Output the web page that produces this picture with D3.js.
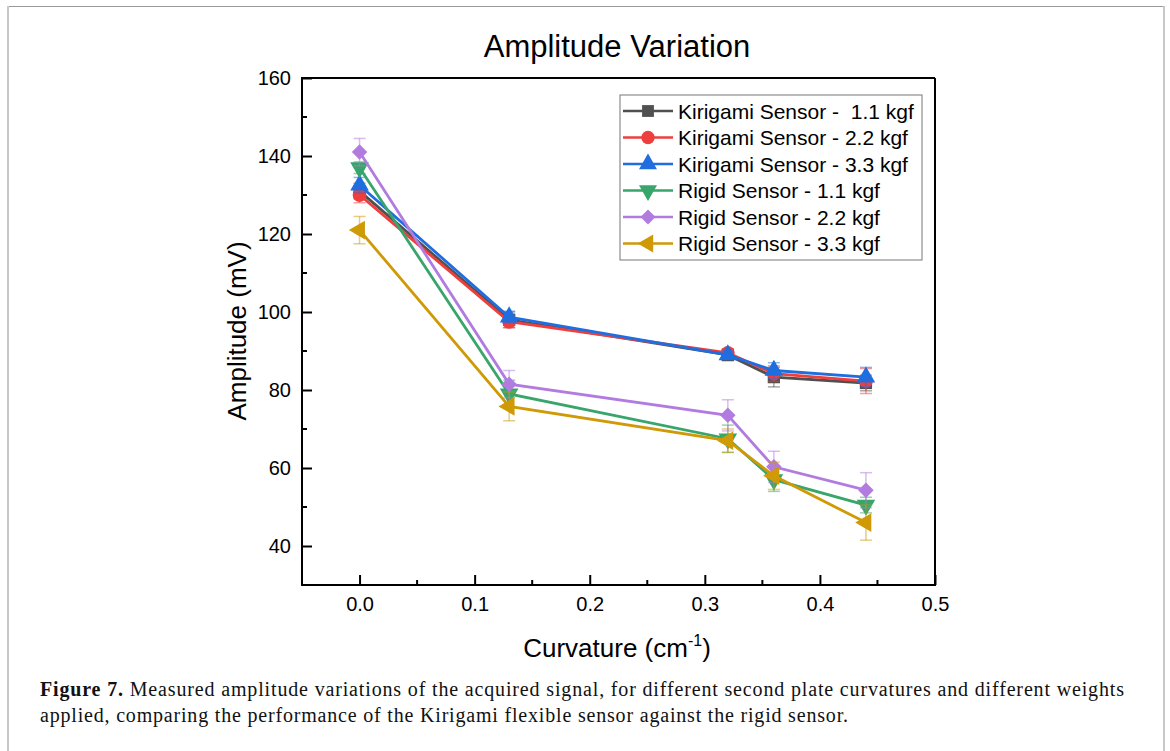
<!DOCTYPE html>
<html>
<head>
<meta charset="utf-8">
<script src="https://cdn.jsdelivr.net/npm/d3@7"></script>
<style>
body { margin: 0; background: #fff; }
</style>
</head>
<body>
<div id="chart"></div>
<script>
// curvature values (cm^-1)
var curvature = [0, 0.13, 0.32, 0.36, 0.44];

var seriesNames = ["Kirigami Sensor -  1.1 kgf", "Kirigami Sensor - 2.2 kgf", "Kirigami Sensor - 3.3 kgf",
                   "Rigid Sensor - 1.1 kgf", "Rigid Sensor - 2.2 kgf", "Rigid Sensor - 3.3 kgf"];

// amplitude (mV)
var kiri11 = [131, 98, 89, 83.3, 81.8];
var kiri22 = [130, 97.5, 89.5, 84.2, 82.3];
var kiri33 = [132.5, 98.7, 89, 85, 83.3];
var rigid11 = [137, 79, 67.5, 57, 50.5];
var rigid22 = [141, 81.5, 73.5, 60.3, 54.3];
var rigid33 = [121, 75.8, 67, 58, 46];

// error bar half widths
var kiri11Err = [2, 2, 1.5, 2.5, 2];
var kiri22Err = [2, 1.5, 1, 2, 3.2];
var kiri33Err = [2, 1.5, 1, 2, 2.5];
var rigid11Err = [1.5, 3.5, 3.5, 3, 2];
var rigid22Err = [3.5, 3.5, 4, 4, 4.5];
var rigid33Err = [3.5, 3.7, 3, 3.5, 4.5];

var xTicks = [0, 0.1, 0.2, 0.3, 0.4, 0.5];
var yTicks = [40, 60, 80, 100, 120, 140, 160];

var colors = ["#505050", "#ef3e3e", "#1f6ddf", "#38a56a", "#b27be0", "#cf9a06"];
var symbols = ["square", "circle", "up", "down", "diamond", "left"];

function init() {
    var values = [kiri11, kiri22, kiri33, rigid11, rigid22, rigid33];
    var errs = [kiri11Err, kiri22Err, kiri33Err, rigid11Err, rigid22Err, rigid33Err];

    var W = 1170, H = 751;
    var pLeft = 302, pRight = 935, pTop = 78, pBottom = 585;
    var font = "Liberation Sans, Arial, sans-serif";

    var svg = d3.select("#chart").append("svg")
        .attr("width", W)
        .attr("height", H);

    // page frame
    svg.append("line").attr("x1", 7).attr("x2", 1164).attr("y1", 6.5).attr("y2", 6.5)
        .attr("stroke", "#999").attr("stroke-width", 1);
    svg.append("line").attr("x1", 8).attr("x2", 8).attr("y1", 6).attr("y2", H)
        .attr("stroke", "#c8c8c8").attr("stroke-width", 2);
    svg.append("line").attr("x1", 1164).attr("x2", 1164).attr("y1", 6).attr("y2", H)
        .attr("stroke", "#c8c8c8").attr("stroke-width", 2);

    var x = d3.scaleLinear().domain([-0.05, 0.5]).range([pLeft, pRight]);
    var y = d3.scaleLinear().domain([30, 160]).range([pBottom, pTop]);

    // title
    svg.append("text")
        .attr("x", 617)
        .attr("y", 57)
        .attr("text-anchor", "middle")
        .attr("font-family", font)
        .attr("font-size", "31px")
        .text("Amplitude Variation");

    // frame top/right
    svg.append("line").attr("x1", pLeft).attr("x2", pRight).attr("y1", pTop).attr("y2", pTop)
        .attr("stroke", "#000").attr("stroke-width", 2);
    svg.append("line").attr("x1", pRight).attr("x2", pRight).attr("y1", pTop).attr("y2", pBottom)
        .attr("stroke", "#000").attr("stroke-width", 2);

    // x axis
    var xAxis = d3.axisBottom(x)
        .tickValues(xTicks)
        .tickFormat(d3.format(".1f"))
        .tickSizeInner(-10)
        .tickSizeOuter(0)
        .tickPadding(12);
    var gx = svg.append("g")
        .attr("transform", "translate(0," + pBottom + ")")
        .call(xAxis);
    gx.select(".domain").attr("stroke-width", 2).attr("d", "M" + (pLeft - 1) + ",0H" + (pRight + 1));
    gx.selectAll(".tick line").attr("stroke-width", 2);
    gx.selectAll(".tick text").attr("font-family", font).attr("font-size", "20px").attr("fill", "#000");
    // minor ticks
    gx.selectAll(".minor").data([-0.05, 0.05, 0.15, 0.25, 0.35, 0.45])
        .enter().append("line")
        .attr("x1", function(d) { return x(d); })
        .attr("x2", function(d) { return x(d); })
        .attr("y1", 0).attr("y2", -5)
        .attr("stroke", "#000").attr("stroke-width", 2);

    // y axis
    var yAxis = d3.axisLeft(y)
        .tickValues(yTicks)
        .tickSizeInner(-10)
        .tickSizeOuter(0)
        .tickPadding(11);
    var gy = svg.append("g")
        .attr("transform", "translate(" + pLeft + ",0)")
        .call(yAxis);
    gy.select(".domain").attr("stroke-width", 2).attr("d", "M0," + (pTop - 1) + "V" + (pBottom + 1));
    gy.selectAll(".tick line").attr("stroke-width", 2);
    gy.selectAll(".tick text").attr("font-family", font).attr("font-size", "20px").attr("fill", "#000");
    gy.selectAll(".minor").data([50, 70, 90, 110, 130, 150])
        .enter().append("line")
        .attr("y1", function(d) { return y(d); })
        .attr("y2", function(d) { return y(d); })
        .attr("x1", 0).attr("x2", 5)
        .attr("stroke", "#000").attr("stroke-width", 2);

    // axis titles
    svg.append("text")
        .attr("transform", "translate(246," + 331 + ") rotate(-90)")
        .attr("text-anchor", "middle")
        .attr("font-family", font)
        .attr("font-size", "26px")
        .text("Amplitude (mV)");

    var xt = svg.append("text")
        .attr("x", 617)
        .attr("y", 657)
        .attr("text-anchor", "middle")
        .attr("font-family", font)
        .attr("font-size", "26px");
    xt.append("tspan").text("Curvature (cm");
    xt.append("tspan").attr("font-size", "16px").attr("dy", -11).text("-1");
    xt.append("tspan").attr("dy", 11).text(")");

    function symbolPath(s, size) {
        if (s === "square") return d3.symbol(d3.symbolSquare, size)();
        if (s === "circle") return d3.symbol(d3.symbolCircle, size)();
        if (s === "diamond") return d3.symbol(d3.symbolSquare, size * 0.8)();
        return d3.symbol(d3.symbolTriangle, size)();
    }
    function symbolRot(s) {
        if (s === "down") return 180;
        if (s === "diamond") return 45;
        if (s === "left") return -90;
        return 0;
    }

    var line = d3.line()
        .x(function(d) { return x(d[0]); })
        .y(function(d) { return y(d[1]); });

    values.forEach(function(vals, i) {
        var pts = curvature.map(function(c, j) { return [c, vals[j], errs[i][j]]; });
        var g = svg.append("g");

        // error bars
        var eb = g.selectAll(".err").data(pts).enter().append("g")
            .attr("stroke", colors[i]).attr("stroke-opacity", 0.5).attr("stroke-width", 1.5);
        eb.append("line")
            .attr("x1", function(d) { return x(d[0]); })
            .attr("x2", function(d) { return x(d[0]); })
            .attr("y1", function(d) { return y(d[1] - d[2]); })
            .attr("y2", function(d) { return y(d[1] + d[2]); });
        eb.append("line")
            .attr("x1", function(d) { return x(d[0]) - 6; })
            .attr("x2", function(d) { return x(d[0]) + 6; })
            .attr("y1", function(d) { return y(d[1] + d[2]); })
            .attr("y2", function(d) { return y(d[1] + d[2]); });
        eb.append("line")
            .attr("x1", function(d) { return x(d[0]) - 6; })
            .attr("x2", function(d) { return x(d[0]) + 6; })
            .attr("y1", function(d) { return y(d[1] - d[2]); })
            .attr("y2", function(d) { return y(d[1] - d[2]); });

        g.append("path")
            .datum(pts)
            .attr("d", line)
            .attr("fill", "none")
            .attr("stroke", colors[i])
            .attr("stroke-width", 2.8);

        g.selectAll(".pt").data(pts).enter().append("path")
            .attr("d", symbolPath(symbols[i], 150))
            .attr("transform", function(d) {
                return "translate(" + x(d[0]) + "," + y(d[1]) + ") rotate(" + symbolRot(symbols[i]) + ")";
            })
            .attr("fill", colors[i]);
    });

    // legend
    var lg = svg.append("g").attr("transform", "translate(620,95)");
    lg.append("rect").attr("x", 0).attr("y", 0).attr("width", 302).attr("height", 165)
        .attr("fill", "#fff").attr("stroke", "#777").attr("stroke-width", 1);
    seriesNames.forEach(function(name, i) {
        var yy = 16 + i * 26.5;
        lg.append("line").attr("x1", 3).attr("x2", 53).attr("y1", yy).attr("y2", yy)
            .attr("stroke", colors[i]).attr("stroke-width", 2.5);
        lg.append("path")
            .attr("d", symbolPath(symbols[i], 140))
            .attr("transform", "translate(28," + yy + ") rotate(" + symbolRot(symbols[i]) + ")")
            .attr("fill", colors[i]);
        lg.append("text")
            .attr("x", 58).attr("y", yy + 7.5)
            .attr("font-family", font)
            .attr("font-size", "21px")
            .style("white-space", "pre")
            .text(name);
    });

    // caption
    var serif = "Liberation Serif, Times New Roman, serif";
    var c1 = svg.append("text")
        .attr("x", 40).attr("y", 696)
        .attr("font-family", serif)
        .attr("font-size", "20px")
        .attr("fill", "#111")
        .attr("textLength", 1084)
        .attr("lengthAdjust", "spacing");
    c1.append("tspan").attr("font-weight", "bold").text("Figure 7.");
    c1.append("tspan").text(" Measured amplitude variations of the acquired signal, for different second plate curvatures and different weights");
    svg.append("text")
        .attr("x", 40).attr("y", 722)
        .attr("font-family", serif)
        .attr("font-size", "20px")
        .attr("fill", "#111")
        .attr("textLength", 808)
        .attr("lengthAdjust", "spacing")
        .text("applied, comparing the performance of the Kirigami flexible sensor against the rigid sensor.");
}

window.onload = init;
</script>
</body>
</html>
